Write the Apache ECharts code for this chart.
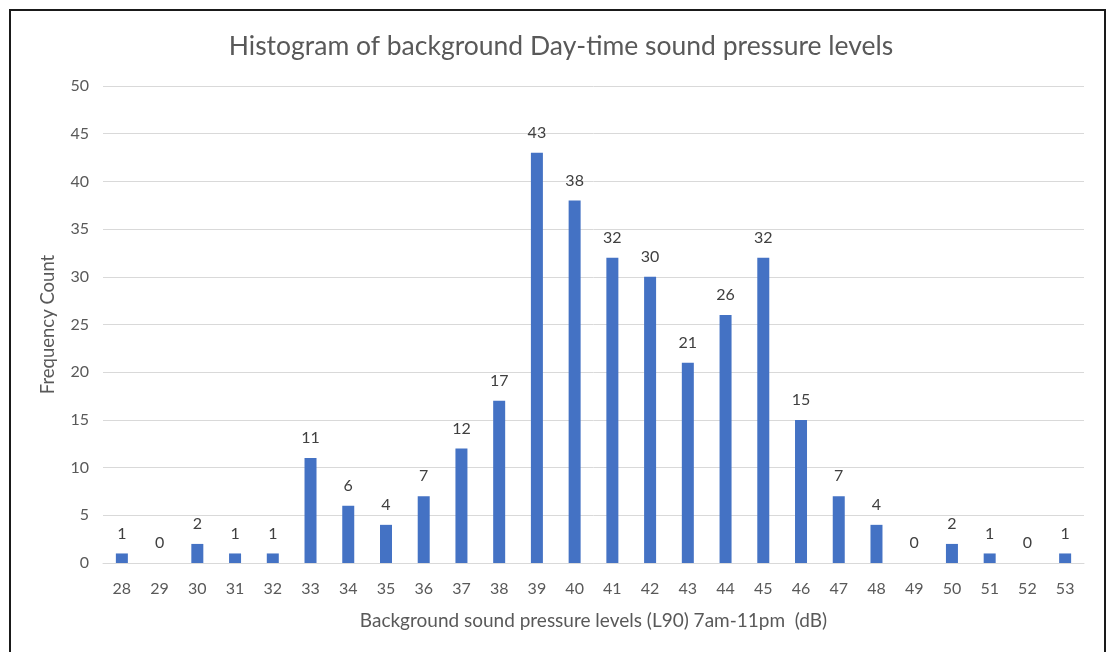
<!DOCTYPE html>
<html>
<head>
<meta charset="utf-8">
<script src="https://cdn.jsdelivr.net/npm/echarts@6/dist/echarts.min.js"></script>
<style>
html,body{margin:0;padding:0;background:#fff;}
#frame{position:absolute;left:9px;top:9px;width:1093px;height:660px;border:2px solid #1a1a1a;box-sizing:content-box;}
#chart{position:absolute;left:0;top:0;width:1106px;height:652px;}
</style>
</head>
<body>
<div id="frame"></div>
<div id="chart"></div>
<script>
const categories = ['28','29','30','31','32','33','34','35','36','37','38','39','40','41','42','43','44','45','46','47','48','49','50','51','52','53'];
const counts = [1,0,2,1,1,11,6,4,7,12,17,43,38,32,30,21,26,32,15,7,4,0,2,1,0,1];
const titleText = 'Histogram of background Day-time sound pressure levels';
const xName = 'Background sound pressure levels (L90) 7am-11pm  (dB)';
const yName = 'Frequency Count';

const font = 'Lato, "Open Sans", sans-serif';
const chart = echarts.init(document.getElementById('chart'), null, {renderer:'canvas'});
chart.setOption({
  animation:false,
  title:{text:titleText,left:556,textAlign:'center',top:28,textStyle:{fontFamily:font,fontSize:26.5,fontWeight:'normal',color:'#595959'}},
  grid:{left:103,right:22,top:86,bottom:89},
  xAxis:{type:'category',data:categories,
    axisLine:{lineStyle:{color:'#d9d9d9',width:1}},axisTick:{show:false},
    axisLabel:{color:'#595959',fontFamily:font,fontSize:16,margin:18},
    name:xName,nameLocation:'middle',nameGap:48,
    nameTextStyle:{color:'#595959',fontFamily:font,fontSize:19}},
  yAxis:{type:'value',min:0,max:50,interval:5,
    axisLine:{show:false},axisTick:{show:false},
    splitLine:{lineStyle:{color:'#d9d9d9',width:1}},
    axisLabel:{color:'#595959',fontFamily:font,fontSize:16,margin:14},
    name:yName,nameLocation:'middle',nameGap:45,
    nameTextStyle:{color:'#595959',fontFamily:font,fontSize:18.5}},
  series:[{type:'bar',data:counts,barWidth:12,
    itemStyle:{color:'#4472C4'},
    label:{show:true,position:'top',distance:12,color:'#404040',fontFamily:font,fontSize:16}}]
});
</script>
</body>
</html>
